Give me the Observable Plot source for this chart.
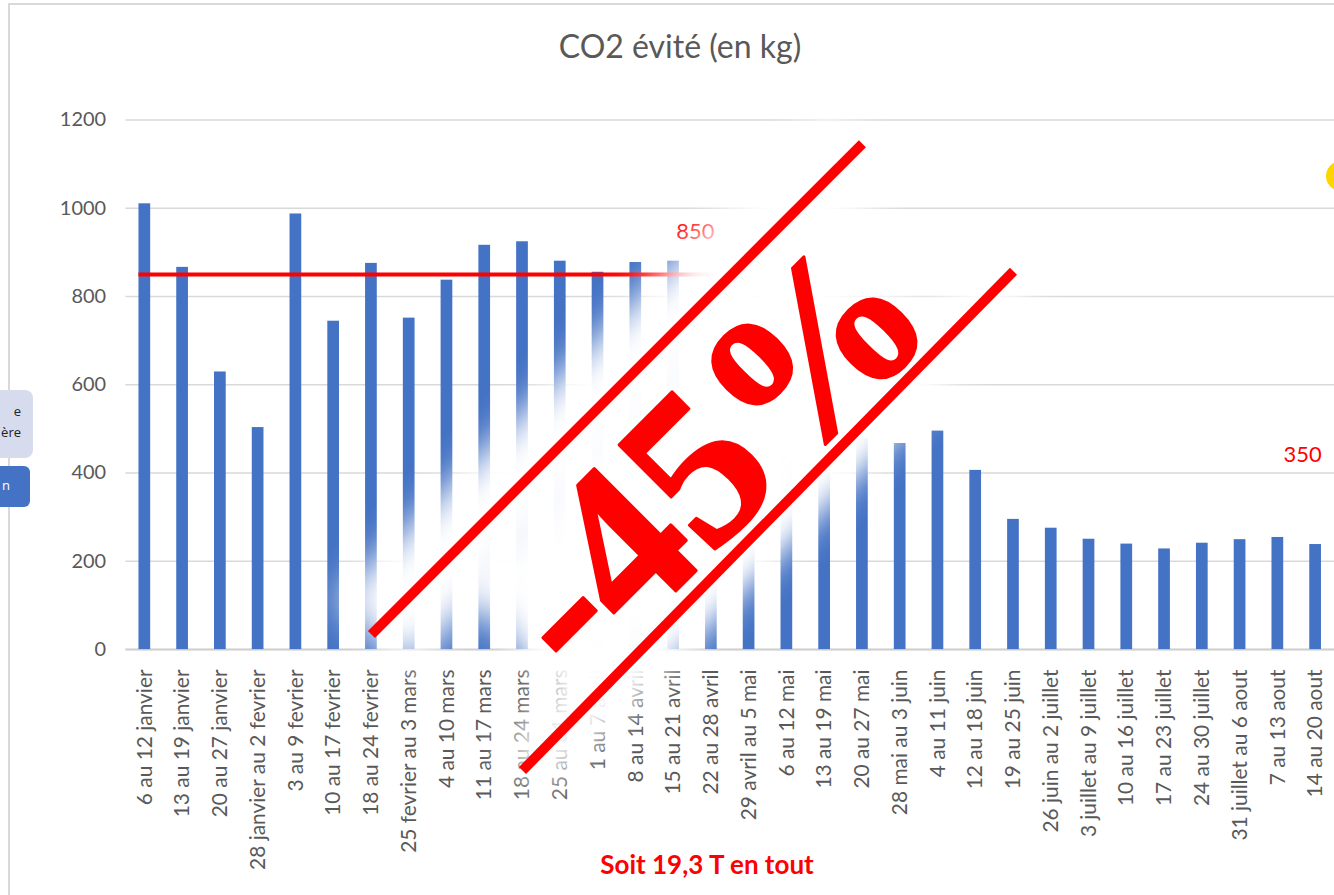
<!DOCTYPE html>
<html>
<head>
<meta charset="utf-8">
<script src="https://cdn.jsdelivr.net/npm/d3@7"></script>
<script src="https://cdn.jsdelivr.net/npm/@observablehq/plot@0.6"></script>
<style>
  html, body { margin: 0; padding: 0; background: #fff; overflow: hidden; }
  #wrap { position: relative; width: 1334px; height: 895px; overflow: hidden; background: #fff; }
  #frame { position: absolute; left: 8px; top: 3px; width: 1400px; height: 1000px; border-left: 2px solid #d9d9d9; border-top: 2px solid #d9d9d9; }
  #chart { position: absolute; left: 0; top: 0; }
  #title { position: absolute; left: 0; width: 1360px; top: 26px; text-align: center; font-family: Lato, sans-serif; font-size: 32px; color: #595959; }
  #caption { position: absolute; left: 0; width: 1414px; top: 848px; text-align: center; font-family: Lato, sans-serif; font-weight: bold; font-size: 26px; color: #ff0000; }
  .ui1 { position: absolute; left: -10px; top: 390px; width: 43px; height: 68px; background: #d6dbed; border-radius: 8px; font-family: "Open Sans", sans-serif; font-size: 13px; color: #222; }
  .ui1 span { position: absolute; right: 12px; }
  .ui2 { position: absolute; left: -10px; top: 466px; width: 40px; height: 41px; background: #4472c4; border-radius: 6px; font-family: "Open Sans", sans-serif; font-size: 13px; color: #fff; }
  .sun { position: absolute; left: 1326px; top: 161px; width: 30px; height: 30px; border-radius: 50%; background: #ffd500; }
</style>
</head>
<body>
<div id="wrap">
  <div id="frame"></div>
  <div class="ui1"><span style="top:12px">e</span><span style="top:33px">ère</span></div>
  <div class="ui2"><span style="position:absolute;left:12px;top:10px">n</span></div>
  <div class="sun"></div>
  <div id="chart"></div>
  <div id="title">CO2 évité (en kg)</div>
  <div id="caption">Soit 19,3 T en tout</div>
</div>
<script>
// ---- data ----
const categories = [
  "6 au 12 janvier", "13 au 19 janvier", "20 au 27 janvier", "28 janvier au 2 fevrier",
  "3 au 9 fevrier", "10 au 17 fevrier", "18 au 24 fevrier", "25 fevrier au 3 mars",
  "4 au 10 mars", "11 au 17 mars", "18 au 24 mars", "25 au 31 mars",
  "1 au 7 avril", "8 au 14 avril", "15 au 21 avril", "22 au 28 avril",
  "29 avril au 5 mai", "6 au 12 mai", "13 au 19 mai", "20 au 27 mai",
  "28 mai au 3 juin", "4 au 11 juin", "12 au 18 juin", "19 au 25 juin",
  "26 juin au 2 juillet", "3 juillet au 9 juillet", "10 au 16 juillet", "17 au 23 juillet",
  "24 au 30 juillet", "31 juillet au 6 aout", "7 au 13 aout", "14 au 20 aout"
];
const co2Values = [
  1010, 866, 629, 503, 987, 744, 875, 751,
  837, 916, 924, 880, 855, 877, 880, 620,
  560, 520, 480, 478, 467, 495, 406, 295,
  275, 250, 239, 228, 241, 249, 254, 238
];
const yTicks = [0, 200, 400, 600, 800, 1000, 1200];

// reference levels
const refLevelValues = [850, 350];
const refLevelLabels = ["850", "350"];
const refLevelFrom = [categories[0], categories[18]];
const refLevelTo = [categories[15], undefined];
const refLabelAt = [categories[15], categories[31]];
const refLabelY = [947, 440];
const refLabelDx = [-16, -13];

// stamp annotation
const stampText = ["-45%"];
const stampAt = [categories[15]];
const stampY = [438];
const stampLineFrom = [categories[6], categories[10]];
const stampLineFromY = [34, -274];
const stampLineTo = [categories[19], categories[23]];
const stampLineToY = [1146, 857];
const stampGlowWidth = [100, 60];
// white band behind the stamp text
const bandFrom = [categories[10]];
const bandFromY = [1];
const bandTo = [categories[19]];
const bandToY = [771];

// ---- tables built from arrays ----
const bars = categories.map((c, i) => ({week: c, co2: co2Values[i]}));
const refs = refLevelValues.map((v, i) => ({value: v, label: refLevelLabels[i], from: refLevelFrom[i], to: refLevelTo[i], at: refLabelAt[i], ly: refLabelY[i]}));
const stamp = stampText.map((t, i) => ({text: t, at: stampAt[i], y: stampY[i]}));
const stampLines = stampLineFrom.map((c, i) => ({x1: c, y1: stampLineFromY[i], x2: stampLineTo[i], y2: stampLineToY[i], gw: stampGlowWidth[i]}));
const band = bandFrom.map((c, i) => ({x1: c, y1: bandFromY[i], x2: bandTo[i], y2: bandToY[i]}));

const red = "#ff0000";
const blue = "#4472c4";
const stampFont = "'Liberation Serif', 'DejaVu Serif', serif";

const chart = Plot.plot({
  width: 1340,
  height: 895,
  marginTop: 120,
  marginBottom: 243,
  marginLeft: 126,
  marginRight: 0,
  style: {fontFamily: "Lato, sans-serif", color: "#595959", background: "transparent", overflow: "visible"},
  x: {domain: categories, paddingInner: 0.69, paddingOuter: 0.345, round: false},
  y: {domain: [0, 1200]},
  marks: [
    Plot.gridY(yTicks, {stroke: "#d9d9d9", strokeOpacity: 1, strokeWidth: 1.5}),
    Plot.ruleY([0], {stroke: "#cfcfcf", strokeWidth: 2}),
    Plot.axisY(yTicks, {tickSize: 0, tickPadding: 20, fontSize: 20, label: null, fill: "#595959", tickFormat: d3.format("d")}),
    Plot.axisX({tickRotate: -90, tickSize: 0, tickPadding: 20, fontSize: 21, label: null, fill: "#595959"}),
    Plot.barY(bars, {x: "week", y: "co2", fill: blue}),
    Plot.ruleY(refs.filter(d => d.to), {y: "value", x1: "from", x2: "to", stroke: red, strokeWidth: 4}),
    Plot.ruleY(refs.filter(d => !d.to), {y: "value", x1: "from", stroke: red, strokeWidth: 3}),
    Plot.text(refs.slice(0, 1), {x: "at", y: "ly", text: "label", dx: refLabelDx[0], fill: red, fontSize: 22}),
    Plot.text(refs.slice(1), {x: "at", y: "ly", text: "label", dx: refLabelDx[1], fill: red, fontSize: 22}),
    // white glow behind the stamp
    Plot.link(band, {x1: "x1", y1: "y1", x2: "x2", y2: "y2", stroke: "white", strokeWidth: 190, ariaDescription: "stamp-glow"}),
    Plot.link(stampLines, {x1: "x1", y1: "y1", x2: "x2", y2: "y2", stroke: "white", strokeWidth: "gw", strokeLinecap: "butt", ariaDescription: "stamp-glow"}),
    Plot.text(stamp, {x: "at", y: "y", text: "text", rotate: -45, fontSize: 220, fontWeight: "bold", fontFamily: stampFont, fill: "white", stroke: "white", strokeWidth: 30, strokeLinejoin: "round", ariaDescription: "stamp-glow"}),
    // the stamp itself
    Plot.link(stampLines, {x1: "x1", y1: "y1", x2: "x2", y2: "y2", stroke: red, strokeWidth: 10}),
    Plot.text(stamp, {x: "at", y: "y", text: "text", rotate: -45, fontSize: 220, fontWeight: "bold", fontFamily: stampFont, fill: red, stroke: red, strokeWidth: 3})
  ]
});

const ns = "http://www.w3.org/2000/svg";
const defs = document.createElementNS(ns, "defs");
const filter = document.createElementNS(ns, "filter");
filter.setAttribute("id", "stampglow");
filter.setAttribute("filterUnits", "userSpaceOnUse");
filter.setAttribute("x", "-200");
filter.setAttribute("y", "-200");
filter.setAttribute("width", "1800");
filter.setAttribute("height", "1300");
const blur = document.createElementNS(ns, "feGaussianBlur");
blur.setAttribute("stdDeviation", "18");
filter.appendChild(blur);
defs.appendChild(filter);
chart.insertBefore(defs, chart.firstChild);
chart.querySelectorAll('[aria-description="stamp-glow"]').forEach(el => {
  const g = el.tagName.toLowerCase() === "g" ? el : el.parentNode;
  g.setAttribute("filter", "url(#stampglow)");
});

document.getElementById("chart").appendChild(chart);
</script>
</body>
</html>
